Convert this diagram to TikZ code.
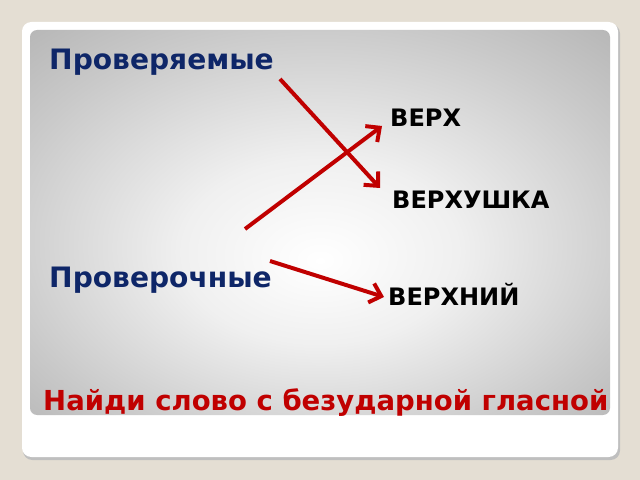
\documentclass[tikz,border=0pt]{standalone}
\usepackage{fontspec}
\setmainfont{DejaVu Sans}
\usetikzlibrary{arrows.meta}
\definecolor{slideblue}{RGB}{14,38,104}
\definecolor{slidered}{RGB}{192,0,0}
\definecolor{paper}{RGB}{228,222,211}
\pgfdeclareradialshading{panel}{\pgfpoint{0bp}{-5bp}}{color(0bp)=(white); color(12bp)=(black!6); color(28bp)=(black!21); color(42bp)=(black!33); color(50bp)=(black!40)}
\tikzset{ g/.style = { anchor = west % group title
        , inner sep = 0pt
        , text = slideblue
        , font = \bfseries\fontsize{24}{24}\selectfont
        }
        , w/.style = { anchor = west % word
        , inner sep = 0pt
        , font = \bfseries\fontsize{20.5}{21}\selectfont
        }
        , t/.style = { anchor = west % task line
        , inner sep = 0pt
        , text = slidered
        , font = \bfseries\fontsize{23.5}{24}\selectfont
        }
        }

\begin{document}
\begin{tikzpicture}[x=0.03cm, y=-0.03cm,
        edge_style/.style={draw=slidered, line width=3.4pt, -{Straight Barb[length=9pt,width=17pt]}}]
        % slide background
        \fill [paper] (0,0) rectangle (640,480);
        \fill [black!25, rounded corners=8] (23,24) rectangle (620,460);
        \fill [white, rounded corners=8] (22,22) rectangle (618,457);
        \shade [shading=panel, rounded corners=6] (30,30) rectangle (610,415);

        \node [g](g1) at (49,62) {Проверяемые};
        \node [g](g2) at (49,280) {Проверочные};
        \node [w](w1) at (390,118) {ВЕРХ};
        \node [w](w2) at (392,200) {ВЕРХУШКА};
        \node [w](w3) at (388,294) {ВЕРХНИЙ};
        \node [t](task) at (43,403) {Найди слово с безударной гласной};

        \coordinate (s1) at (280,79);
        \coordinate (e1) at (380,188);
        \coordinate (s2) at (245,229);
        \coordinate (e2) at (382,126);
        \coordinate (s3) at (270,261);
        \coordinate (e3) at (384,297);
        \draw [edge_style] (s1) -- (e1);
        \draw [edge_style] (s2) -- (e2);
        \draw [edge_style] (s3) -- (e3);
\end{tikzpicture}
\end{document}
